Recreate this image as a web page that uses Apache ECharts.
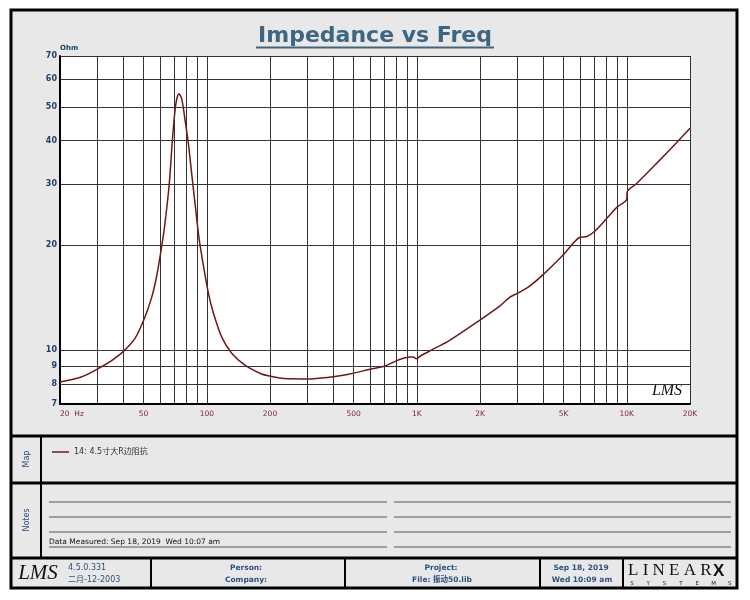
<!DOCTYPE html>
<html><head><meta charset="utf-8">
<script src="https://cdn.jsdelivr.net/npm/echarts@6/dist/echarts.min.js"></script>
<style>html,body{margin:0;padding:0;background:#fff}#c{width:750px;height:600px}</style>
</head><body><div id="c"></div>
<script>
// ---- data ----
const freqHz = [20, 25.4, 32, 34.6, 40, 45.5, 50.4, 54.7, 57.7, 61, 63.2, 66.3, 68.5, 71.1, 73.7, 75.9, 78.8, 81.7, 84.7, 87.9, 91.8, 96.2, 101.7, 107.4, 117.8, 131.4, 152, 182.5, 200, 227, 260, 300, 340, 400, 481, 599, 706, 802, 880, 928, 960, 995, 1050, 1156, 1439, 2000, 2490, 2780, 3046, 3460, 4007, 4990, 5990, 6445, 7060, 8020, 9020, 9990, 10050, 11140, 13870, 17290, 20000];
const impedanceOhm = [8.1, 8.38, 9.0, 9.26, 9.9, 10.8, 12.3, 14.2, 16.3, 19.9, 23.1, 30.1, 39.7, 50.6, 54.5, 52.9, 45.8, 39.3, 32.2, 26.4, 21.0, 17.6, 14.6, 12.8, 10.9, 9.8, 9.06, 8.54, 8.42, 8.3, 8.27, 8.26, 8.3, 8.38, 8.54, 8.81, 9.0, 9.33, 9.5, 9.56, 9.56, 9.45, 9.65, 9.95, 10.68, 12.2, 13.4, 14.2, 14.6, 15.3, 16.5, 18.8, 21.1, 21.2, 22.0, 23.9, 25.8, 27.1, 28.5, 30.1, 34.4, 39.5, 43.4];
const xGridValues = [20, 30, 40, 50, 60, 70, 80, 90, 100, 200, 300, 400, 500, 600, 700, 800, 900, 1000, 2000, 3000, 4000, 5000, 6000, 7000, 8000, 9000, 10000, 20000];
const xLabelValues = [20, 50, 100, 200, 500, 1000, 2000, 5000, 10000, 20000];
const yTickValues = [7, 8, 9, 10, 20, 30, 40, 50, 60, 70];
const seriesName = '14: 4.5寸大R边阻抗';

const FONT = '"DejaVu Sans", Verdana, "Noto Sans CJK SC", sans-serif';
const BLUE = '#2a5080';
const chart = echarts.init(document.getElementById('c'), null, {renderer: 'canvas'});

function txt(text, x, y, opt) {
  return {type: 'text', style: Object.assign({text: text, x: x, y: y, fill: BLUE,
    font: '8px ' + FONT, align: 'center', verticalAlign: 'middle'}, opt || {})};
}
function ln(x1, y1, x2, y2, w, c) {
  return {type: 'line', shape: {x1: x1, y1: y1, x2: x2, y2: y2}, style: {stroke: c || '#000', lineWidth: w}};
}

const deco = [
  {type: 'rect', shape: {x: 11, y: 10, width: 726, height: 578}, style: {fill: '#e8e8e8', stroke: '#000', lineWidth: 3}},
  {type: 'rect', shape: {x: 60, y: 56, width: 630, height: 348}, style: {fill: '#fff'}},
  // title + underline
  txt('Impedance vs Freq', 375, 36, {font: 'bold 22px ' + FONT, fill: '#3e6582'}),
  ln(256, 47.5, 494, 47.5, 2, '#3e6582'),
  // panel dividers
  ln(11, 436, 737, 436, 3), ln(11, 483, 737, 483, 3), ln(11, 558, 737, 558, 3),
  ln(41, 436, 41, 558, 2),
  ln(151, 558, 151, 588, 2), ln(345, 558, 345, 588, 2), ln(540, 558, 540, 588, 2), ln(623, 558, 623, 588, 2),
  // notes lines
  ln(49, 502, 387, 502, 1, '#555'), ln(49, 517, 387, 517, 1, '#555'), ln(49, 532, 387, 532, 1, '#555'), ln(49, 547, 387, 547, 1, '#555'),
  ln(394, 502, 731, 502, 1, '#555'), ln(394, 517, 731, 517, 1, '#555'), ln(394, 532, 731, 532, 1, '#555'), ln(394, 547, 731, 547, 1, '#555'),
  txt('Data Measured: Sep 18, 2019  Wed 10:07 am', 49, 542, {align: 'left', fill: '#111', font: '7.5px ' + FONT}),
  // side labels
  {type: 'text', x: 27, y: 459, rotation: Math.PI / 2, style: {text: 'Map', x: 0, y: 0, align: 'center', verticalAlign: 'middle', fill: BLUE, font: '8px ' + FONT}},
  {type: 'text', x: 27, y: 520, rotation: Math.PI / 2, style: {text: 'Notes', x: 0, y: 0, align: 'center', verticalAlign: 'middle', fill: BLUE, font: '8px ' + FONT}},
  // bottom bar
  txt('LMS', 38, 573, {fill: '#111', font: 'italic 21px "Liberation Serif", serif'}),
  txt('4.5.0.331', 68, 568, {align: 'left'}),
  txt('二月-12-2003', 68, 580, {align: 'left'}),
  txt('Person:', 246, 568, {font: 'bold 7.5px ' + FONT}),
  txt('Company:', 246, 580, {font: 'bold 7.5px ' + FONT}),
  txt('Project:', 441, 568, {font: 'bold 7.5px ' + FONT}),
  txt('File: 振动50.lib', 442, 580, {font: 'bold 7.5px ' + FONT}),
  txt('Sep 18, 2019', 581, 568, {font: 'bold 7.5px ' + FONT}),
  txt('Wed 10:09 am', 582, 580, {font: 'bold 7.5px ' + FONT}),
  txt('L I N E A R', 628, 571, {align: 'left', fill: '#111', font: '17px "Liberation Serif", serif'}),
  txt('X', 713, 571, {align: 'left', fill: '#111', font: 'bold 17px "Liberation Sans", sans-serif'}),
  // plot watermark
  txt('LMS', 667, 391, {fill: '#111', font: 'italic 16px "Liberation Serif", serif'})
];
'SYSTEMS'.split('').forEach(function (ch, i) {
  deco.push(txt(ch, 632 + i * 16.3, 583.5, {fill: '#111', font: '5.5px ' + FONT}));
});

const data = freqHz.map(function (f, i) { return [f, impedanceOhm[i]]; });

chart.setOption({
  animation: false,
  backgroundColor: '#fff',
  grid: {left: 60, right: 60, top: 56, bottom: 196, show: true, borderColor: '#000', borderWidth: 1},
  legend: {left: 47, top: 443, itemWidth: 17, itemHeight: 1.5, itemGap: 10, icon: 'rect',
    textStyle: {fontSize: 8, fontFamily: FONT, color: '#333'}, data: [seriesName]},
  xAxis: {
    type: 'log', logBase: 10, min: 20, max: 20000,
    axisLine: {show: true, lineStyle: {color: '#000', width: 2}},
    axisTick: {show: false, customValues: xGridValues},
    splitLine: {show: true, lineStyle: {color: '#333', width: 1}},
    axisLabel: {customValues: xLabelValues, color: '#7a2040', fontSize: 7.5, fontFamily: FONT, margin: 6,
      alignMinLabel: 'left',
      formatter: function (v) {
        v = Math.round(v);
        if (v === 20) return '20  Hz';
        return v >= 1000 ? (v / 1000) + 'K' : String(v);
      }}
  },
  yAxis: {
    type: 'log', logBase: 10, min: 7, max: 70,
    name: 'Ohm', nameLocation: 'end', nameGap: 4,
    nameTextStyle: {align: 'left', color: '#1e3f6e', fontSize: 7, fontWeight: 'bold', fontFamily: FONT},
    axisLine: {show: true, lineStyle: {color: '#000', width: 2}},
    axisTick: {show: false, customValues: yTickValues},
    splitLine: {show: true, lineStyle: {color: '#333', width: 1}},
    axisLabel: {customValues: yTickValues, color: '#1e3f6e', fontSize: 8, fontWeight: 'bold', fontFamily: FONT, margin: 3,
      formatter: function (v) { return String(Math.round(v)); }}
  },
  graphic: {z: -10, elements: deco},
  series: [{
    name: seriesName, type: 'line', data: data, symbol: 'none', smooth: 0.3,
    lineStyle: {color: '#701818', width: 1.5}, itemStyle: {color: '#701818'}, z: 5
  }]
});
</script></body></html>
